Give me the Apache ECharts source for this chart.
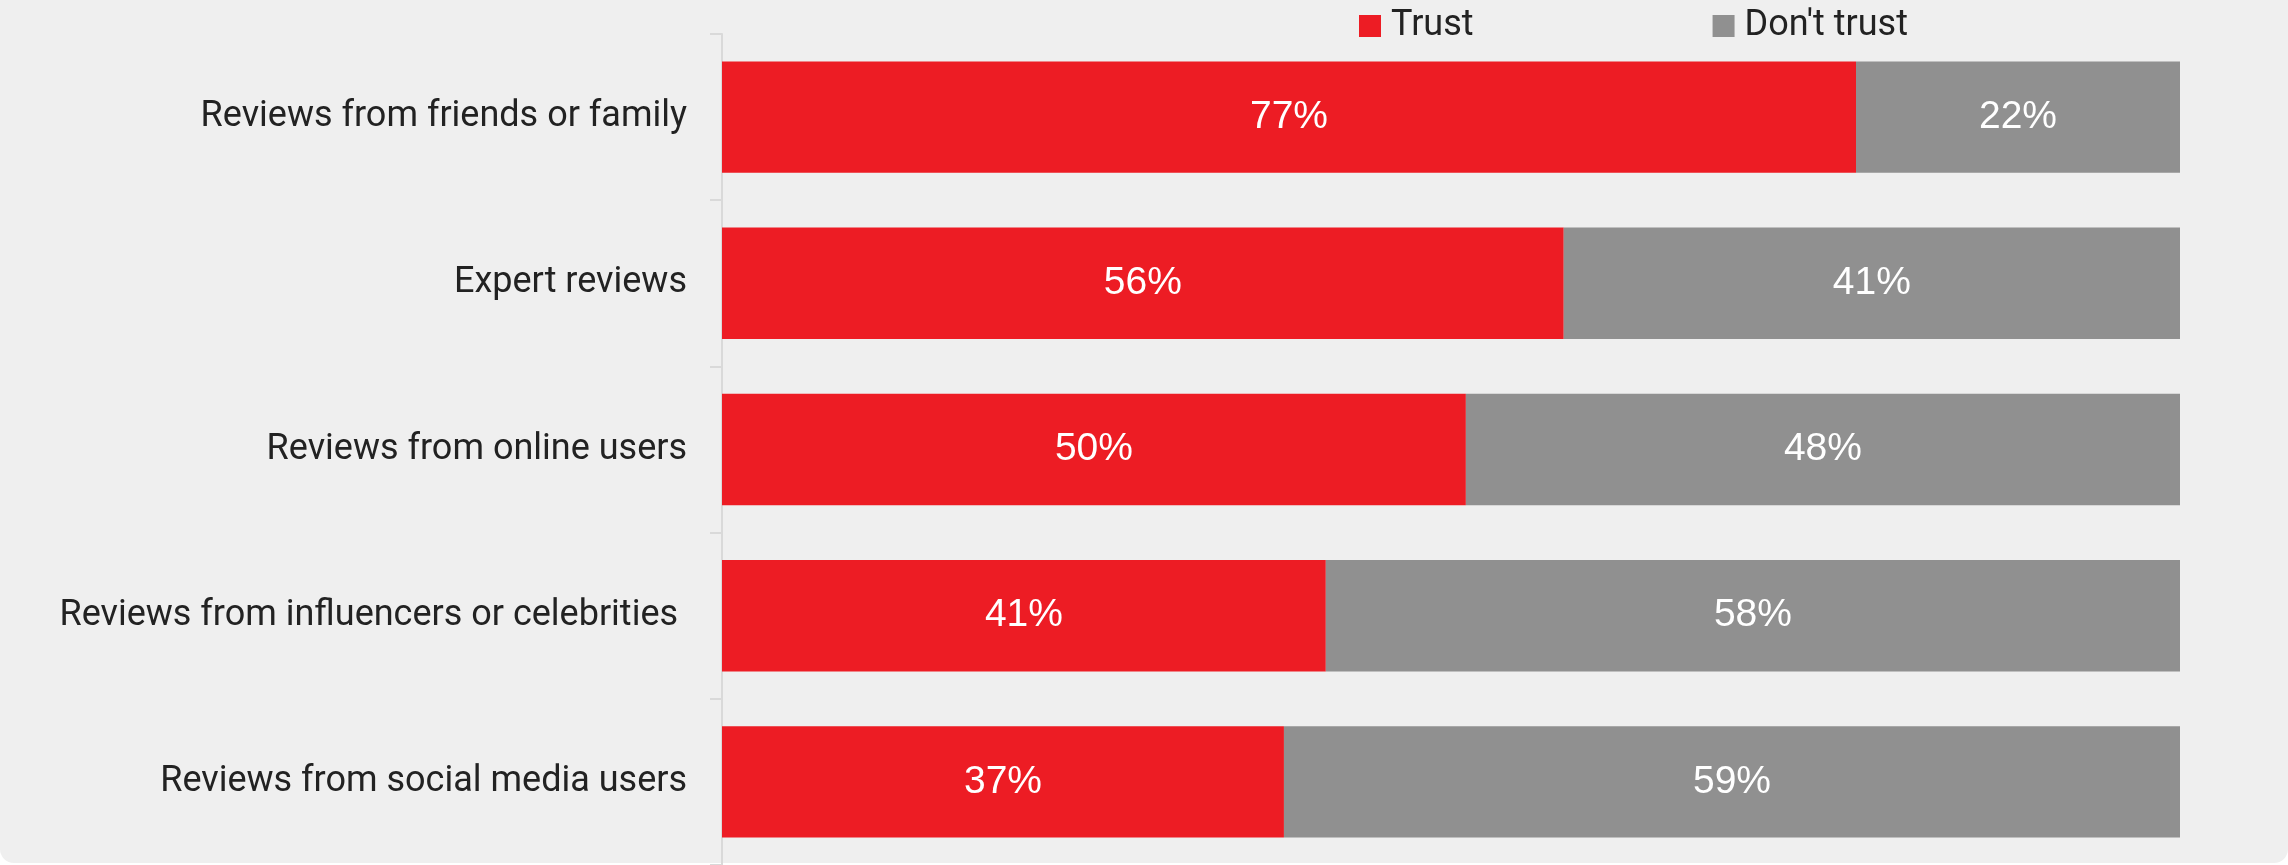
<!DOCTYPE html>
<html>
<head>
<meta charset="utf-8">
<title>Trust in reviews</title>
<script src="https://cdn.jsdelivr.net/npm/echarts@6/dist/echarts.min.js"></script>
<style>
  html, body { margin: 0; padding: 0; background: #ffffff; }
  #card { position: absolute; left: 0; top: 0; width: 2288px; height: 863px;
          background: #efefef; border-radius: 0 0 14px 14px; }
  #chart { position: absolute; left: 0; top: 0; width: 2288px; height: 865px; }
</style>
</head>
<body>
<div id="card"></div>
<div id="chart"></div>
<script>
// Review sources, top to bottom
const categories = [
  'Reviews from friends or family',
  'Expert reviews',
  'Reviews from online users',
  'Reviews from influencers or celebrities ',
  'Reviews from social media users'
];
// Percent of respondents
const trustValues = [77, 56, 50, 41, 37];
const dontTrustValues = [22, 41, 48, 58, 59];

// Each row is drawn as a share of its own answered total (100% stacked)
const totals = trustValues.map((v, i) => v + dontTrustValues[i]);
const toShares = (arr) => arr.map((v, i) => ({ value: v / totals[i], raw: v }));

const labelFont = 'Roboto, "Liberation Sans", Arial, sans-serif';
const valueFont = '"Liberation Sans", Arial, sans-serif';

const valueLabel = {
  show: true, position: 'inside', color: '#ffffff',
  fontFamily: valueFont, fontSize: 39,
  formatter: (p) => p.data.raw + '%'
};

const chart = echarts.init(document.getElementById('chart'), null, { renderer: 'canvas' });
chart.setOption({
  backgroundColor: 'transparent',
  animation: false,
  legend: {
    left: 1354,
    top: 3,
    itemWidth: 22,
    itemHeight: 22,
    itemGap: 239,
    icon: 'rect',
    textStyle: { fontFamily: labelFont, fontSize: 36, color: '#222222', padding: [0, 0, 0, 5] },
    data: ['Trust', "Don't trust"]
  },
  grid: { left: 722, right: 108, top: 34, bottom: 0, containLabel: false },
  xAxis: {
    type: 'value',
    min: 0,
    max: 1,
    show: false
  },
  yAxis: {
    type: 'category',
    inverse: true,
    data: categories,
    axisLine: { show: true, lineStyle: { color: '#d9d9d9', width: 2 } },
    axisTick: { show: true, length: 12, lineStyle: { color: '#d9d9d9', width: 2 } },
    axisLabel: { margin: 35, fontFamily: labelFont, fontSize: 36, color: '#222222' },
    splitLine: { show: false }
  },
  series: [
    {
      name: 'Trust',
      type: 'bar',
      stack: 'total',
      barCategoryGap: '33%',
      itemStyle: { color: '#ed1c24' },
      label: valueLabel,
      data: toShares(trustValues)
    },
    {
      name: "Don't trust",
      type: 'bar',
      stack: 'total',
      barCategoryGap: '33%',
      itemStyle: { color: '#909090' },
      label: valueLabel,
      data: toShares(dontTrustValues)
    }
  ]
});
</script>
</body>
</html>
